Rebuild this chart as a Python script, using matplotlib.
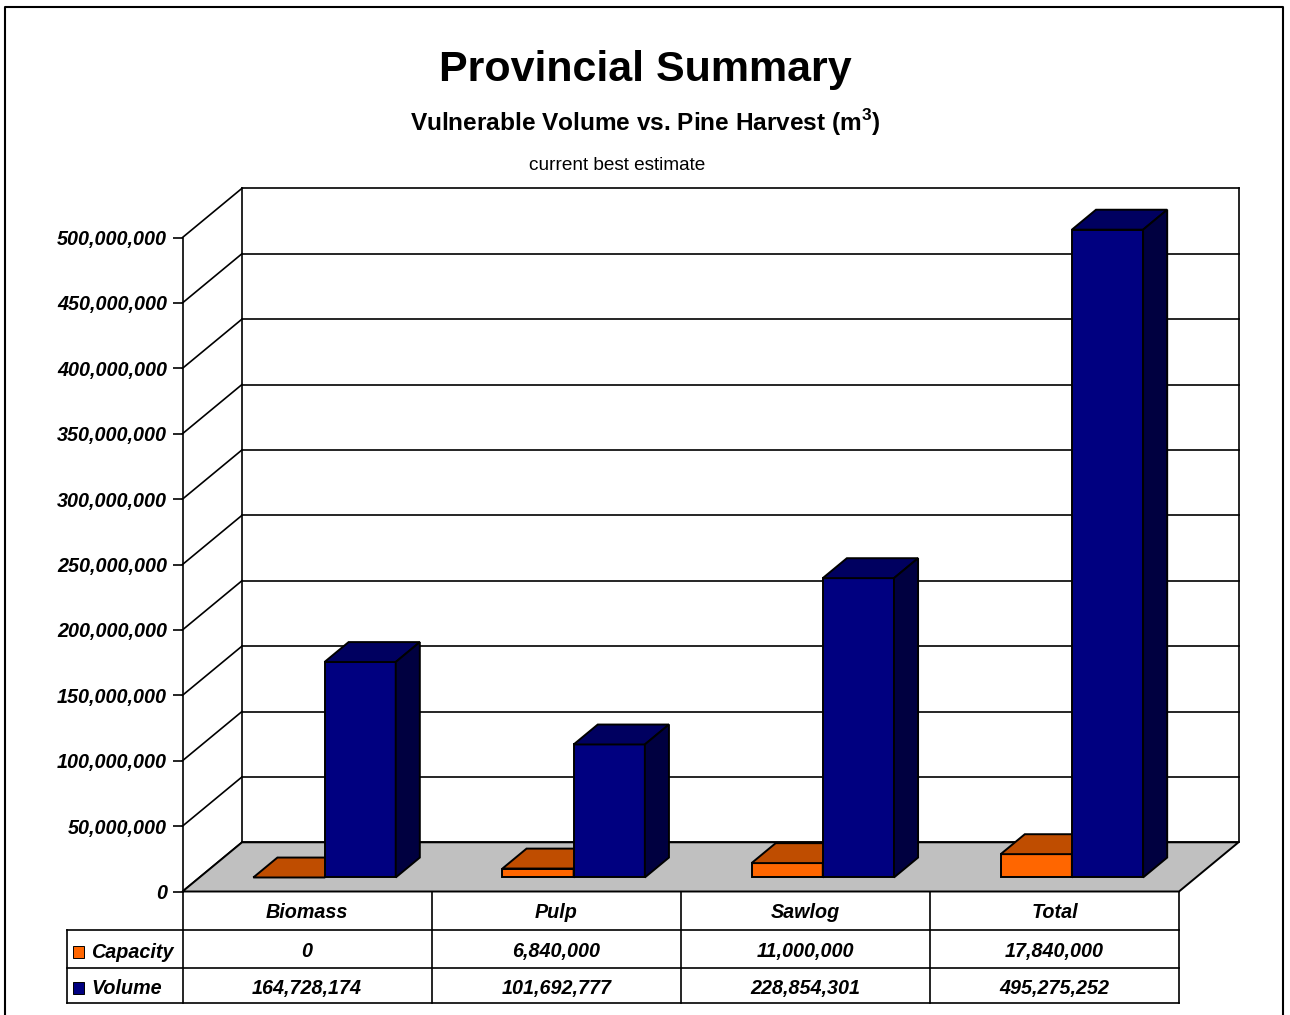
import matplotlib
matplotlib.use('Agg')
import matplotlib.pyplot as plt
from matplotlib.lines import Line2D
from matplotlib.patches import Polygon, Rectangle
from matplotlib.transforms import Affine2D, blended_transform_factory

categories = ['Biomass', 'Pulp', 'Sawlog', 'Total']
capacity = [0, 6840000, 11000000, 17840000]
volume = [164728174, 101692777, 228854301, 495275252]
ticks = [0, 50000000, 100000000, 150000000, 200000000, 250000000,
         300000000, 350000000, 400000000, 450000000, 500000000]

W, H = 1290, 1015
plt.rcParams['font.family'] = ['Liberation Sans', 'DejaVu Sans']
plt.rcParams['mathtext.fontset'] = 'custom'
plt.rcParams['mathtext.bf'] = 'Liberation Sans:bold'

fig = plt.figure(figsize=(W / 100, H / 100), dpi=100, facecolor='white')
# plot box in pixels of the picture
left, right, bottom, top = 182.5, 1179, 891.5, 237.5
ax = fig.add_axes([left / W, 1 - bottom / H, (right - left) / W, (bottom - top) / H])
ax.set_xlim(0, len(categories))
ax.set_ylim(0, 500000000)
ax.set_facecolor('none')
for s in ['top', 'right', 'bottom']:
    ax.spines[s].set_visible(False)
ax.spines['left'].set_linewidth(1.2)
ax.set_xticks([])
ax.set_yticks(ticks)
ax.set_yticklabels(['{:,}'.format(t) for t in ticks], fontsize=14.2, fontweight='bold', fontstyle='italic')
ax.tick_params(axis='y', length=7.2, width=1.2, pad=4)

# fake 3d depth, in data units
dx_depth = 59.5 / ((right - left) / 4)
dy_depth = 49.2 / (bottom - top) * 500000000


def proj(x, y, d):
    return (x + d * dx_depth, y + d * dy_depth)


def wire(p, q, lw=1.2, z=1):
    ax.plot([p[0], q[0]], [p[1], q[1]], color='black', lw=lw, clip_on=False, zorder=z,
            solid_capstyle='projecting')


# floor
ax.add_patch(Polygon([proj(0, 0, 0), proj(4, 0, 0), proj(4, 0, 1), proj(0, 0, 1)], closed=True,
                     facecolor='#C0C0C0', edgecolor='black', lw=1.4, clip_on=False, zorder=2))
# walls and grid
for t in ticks:
    wire(proj(0, t, 1), proj(4, t, 1))
    wire(proj(0, t, 0), proj(0, t, 1))
wire(proj(0, 0, 1), proj(0, 500000000, 1))
wire(proj(4, 0, 1), proj(4, 500000000, 1))

bar_w = 71.2 / ((right - left) / 4)
gap = (1 - 2 * bar_w) / 2
d0, d1 = 0.285, 0.69


def bar3d(x, h, front, topc, side, z):
    kw = dict(closed=True, edgecolor='black', lw=1.4, clip_on=False, zorder=z, joinstyle='miter')
    x1 = x + bar_w
    ax.add_patch(Polygon([proj(x, 0, d0), proj(x1, 0, d0), proj(x1, h, d0), proj(x, h, d0)], facecolor=front, **kw))
    ax.add_patch(Polygon([proj(x, h, d0), proj(x1, h, d0), proj(x1, h, d1), proj(x, h, d1)], facecolor=topc, **kw))
    ax.add_patch(Polygon([proj(x1, 0, d0), proj(x1, 0, d1), proj(x1, h, d1), proj(x1, h, d0)], facecolor=side, **kw))


for i in range(len(categories)):
    bar3d(i + gap + 0.002, capacity[i], '#FF6600', '#BF4D00', '#803300', 3 + i)
    bar3d(i + gap + 0.002 + bar_w, volume[i], '#000080', '#000060', '#000040', 3.5 + i)

# layout things below use picture pixels, y going down
px = Affine2D().scale(1, -1).translate(0, H)


def pline(xs, ys, lw=1.2):
    fig.add_artist(Line2D(xs, ys, transform=px, color='black', lw=lw, solid_capstyle='projecting'))


def ptext(x, y, s, size, ha='center', weight='bold', style='normal'):
    fig.text(x, y, s, transform=px, fontsize=size, ha=ha, va='center', fontweight=weight, fontstyle=style)


# outer border, cut off by the bottom edge
pline([5, 5, 1283, 1283], [H, 6.5, 6.5, H], lw=1.5)

ptext(645.5, 70.5, 'Provincial Summary', 31)
ptext(645, 122.5, r'Vulnerable Volume vs. Pine Harvest (m$^{\mathbf{3}}$)', 17.6)
ptext(617.5, 165.5, 'current best estimate', 13.7, weight='normal')

# data table
rows = [891.5, 930, 967.7, 1002.5]
cols = [left + i * (right - left) / 4 for i in range(5)]
pline([67, right], [rows[1], rows[1]])
pline([67, right], [rows[2], rows[2]])
pline([67, right], [rows[3], rows[3]])
pline([67, 67], [rows[1], rows[3]])
for c in cols:
    pline([c, c], [rows[0], rows[3]])

blend = blended_transform_factory(ax.transData, px)
for i, name in enumerate(categories):
    ax.text(i + 0.5, 912, name, transform=blend, fontsize=14.2, fontweight='bold', fontstyle='italic',
            ha='center', va='center', clip_on=False)
    ax.text(i + 0.5, 951.5, '{:,}'.format(capacity[i]), transform=blend, fontsize=14.2, fontweight='bold',
            fontstyle='italic', ha='center', va='center', clip_on=False)
    ax.text(i + 0.5, 988.5, '{:,}'.format(volume[i]), transform=blend, fontsize=14.2, fontweight='bold',
            fontstyle='italic', ha='center', va='center', clip_on=False)

for y, name, col in [(952, 'Capacity', '#FF6600'), (988, 'Volume', '#000080')]:
    fig.add_artist(Rectangle((72.5, y - 6), 11.5, 12, transform=px, facecolor=col, edgecolor='black', lw=0.7))
    ptext(91, y + 0.5, name, 14.2, ha='left', style='italic')

fig.savefig('out.png', dpi=100)
